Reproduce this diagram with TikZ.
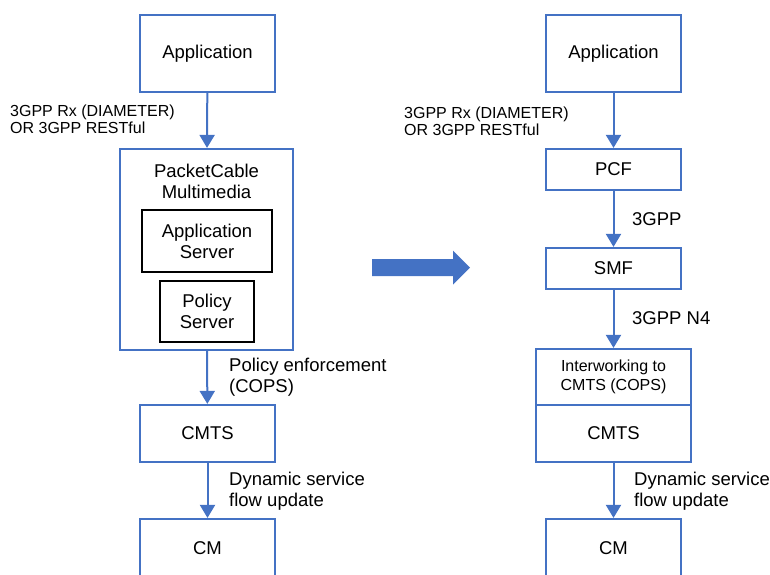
\documentclass[tikz,border=0pt]{standalone}
\usepackage{fontspec}
\setmainfont{Liberation Sans}
\usetikzlibrary{arrows.meta}
\definecolor{pblue}{HTML}{4472C4}
\tikzset{
  box/.style={draw=pblue, line width=2.2pt, fill=white, inner sep=0pt, align=center, font=\fontsize{18.5}{21}\selectfont},
  sbox/.style={draw=black, line width=2pt, inner sep=0pt, align=center, font=\fontsize{18.5}{21}\selectfont},
  lbl/.style={anchor=west, inner sep=0pt, align=left, font=\fontsize{18.5}{20.5}\selectfont},
  slbl/.style={anchor=west, inner sep=0pt, align=left, font=\fontsize{16}{17}\selectfont},
  flow/.style={draw=pblue, line width=2pt, -{Triangle[length=13pt,width=15pt]}}
}
\begin{document}
\begin{tikzpicture}[x=1pt,y=-1pt]
\useasboundingbox (0,0) rectangle (770,574);
\clip (0,0) rectangle (770,574);

% left: PacketCable Multimedia
\node[box, minimum width=135, minimum height=77] (app1) at (207.5,53.5) {Application};
\node[box, minimum width=173, minimum height=201] (pcmm) at (206.5,249.5) {};
\node[inner sep=0pt, align=center, font=\fontsize{18.5}{21}\selectfont] (pcmmtitle) at (206.5,181) {PacketCable\\Multimedia};
\node[sbox, minimum width=130, minimum height=62] (as) at (207,241) {Application\\Server};
\node[sbox, minimum width=94, minimum height=61] (ps) at (207,311.5) {Policy\\Server};
\node[box, minimum width=135, minimum height=57] (cmts1) at (207.5,433.5) {CMTS};
\node[box, minimum width=135, minimum height=58] (cm1) at (207.5,548) {CM};

\draw[flow] (app1) -- (pcmm);
\draw[flow] (pcmm) -- (cmts1);
\draw[flow] (cmts1) -- (cm1);

\node[slbl] (rx1) at (10,119) {3GPP Rx (DIAMETER)\\OR 3GPP RESTful};
\node[lbl] (cops1) at (229,377) {Policy enforcement\\(COPS)};
\node[lbl] (dsf1) at (229,491) {Dynamic service\\flow update};

% migration arrow
\fill[pblue] (372,259) -- (453,259) -- (453,250.5) -- (470,267.5) -- (453,284.5) -- (453,276) -- (372,276) -- cycle;

% right: 5G core
\node[box, minimum width=135, minimum height=77] (app2) at (613.5,53.5) {Application};
\node[box, minimum width=135, minimum height=41] (pcf) at (613.5,169.5) {PCF};
\node[box, minimum width=135, minimum height=41] (smf) at (613.5,268.5) {SMF};
\node[box, minimum width=155, minimum height=56, font=\fontsize{16}{18.5}\selectfont] (iw) at (613.5,377) {Interworking to\\CMTS (COPS)};
\node[box, minimum width=155, minimum height=57] (cmts2) at (613.5,433.5) {CMTS};
\node[box, minimum width=135, minimum height=58] (cm2) at (613.5,548) {CM};

\draw[flow] (app2) -- (pcf);
\draw[flow] (pcf) -- (smf);
\draw[flow] (smf) -- (iw);
\draw[flow] (cmts2) -- (cm2);

\node[slbl] (rx2) at (404,121) {3GPP Rx (DIAMETER)\\OR 3GPP RESTful};
\node[lbl] (n3gpp) at (632,219) {3GPP};
\node[lbl] (n4) at (632,318) {3GPP N4};
\node[lbl] (dsf2) at (634,491) {Dynamic service\\flow update};
\end{tikzpicture}
\end{document}
